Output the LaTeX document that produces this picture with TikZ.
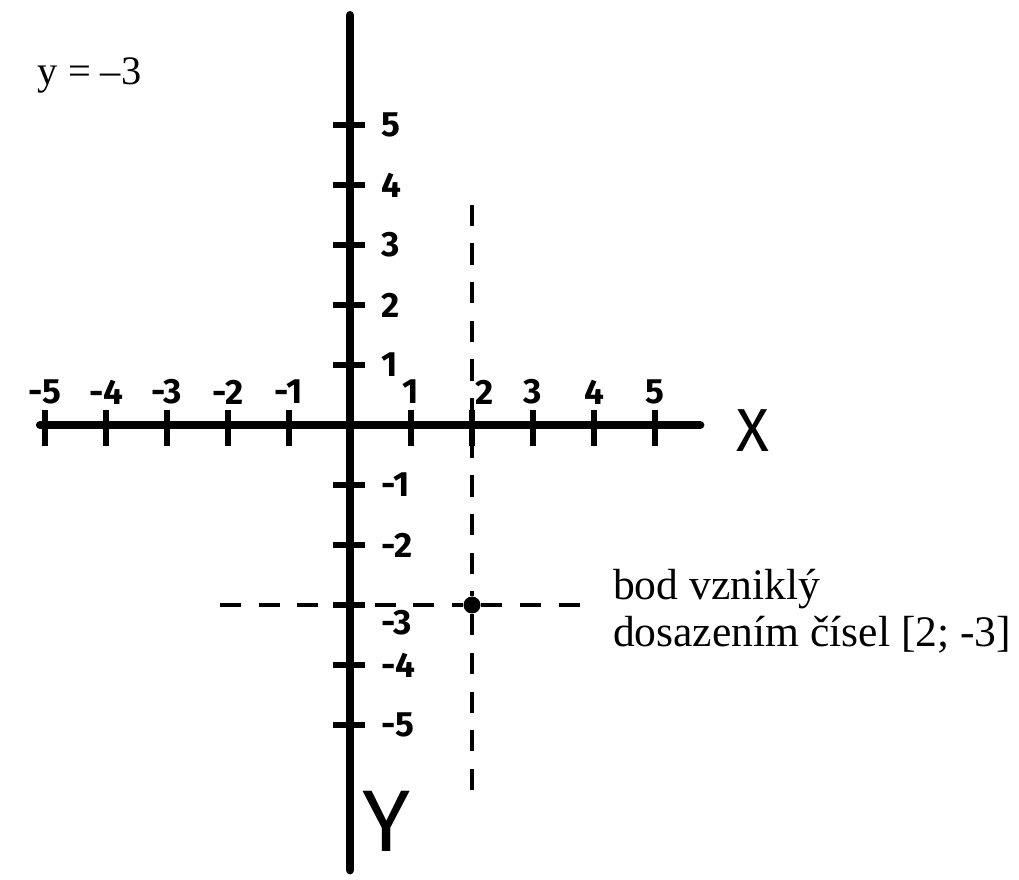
\documentclass[tikz,border=0pt]{standalone}
\usepackage{fontspec}
\setmainfont{Liberation Serif}
\newfontfamily\handfont{Fira Sans}
\usetikzlibrary{positioning}

\begin{document}
\begin{tikzpicture}[x=0.61cm,y=0.6cm,
  axis/.style={line width=2.4pt,line cap=round},
  tick/.style={line width=1.6pt},
  guide/.style={line width=1.3pt,dash pattern=on 6pt off 5pt},
  num/.style={font=\handfont\bfseries,inner sep=1pt},
  note/.style={font=\fontsize{12.4}{13.5}\selectfont,align=left,inner sep=0pt}
]
  \useasboundingbox (-5.738,7.083) rectangle (10.967,-7.567);
  % axes
  \coordinate (xs) at (-5.08,0);
  \coordinate (xe) at (5.74,0);
  \coordinate (ys) at (0,6.83);
  \coordinate (ye) at (0,-7.42);
  \draw[axis] (xs) -- (xe);
  \draw[axis] (ys) -- (ye);
  \node[font=\handfont\LARGE] (xlab) at (6.6,-0.1) {X};
  \node[font=\handfont\Huge] (ylab) at (0.6,-6.6) {Y};
  % ticks and numbers
  \foreach \i in {-5,...,-1,1,3,4,5} {
    \draw[tick] (\i,0.25) -- (\i,-0.35);
    \node[num] (xn\i) at (\i,0.55) {\i};
  }
  \draw[tick] (2,0.25) -- (2,-0.35);
  \node[num] (xn2) at (2.2,0.55) {2};
  \foreach \i in {-5,-4,-2,-1,1,2,...,5} {
    \draw[tick] (-0.28,\i) -- (0.25,\i);
    \node[num,anchor=west] (yn\i) at (0.45,\i) {\i};
  }
  \draw[tick] (-0.28,-3) -- (0.25,-3);
  \node[num,anchor=west] (yn-3) at (0.45,-3.3) {-3};
  % guides to the point
  \node[circle,fill,inner sep=0pt,minimum size=0.17cm] (pt) at (2,-3) {};
  \coordinate (gtop) at (2,3.67);
  \coordinate (gbot) at (2,-6.08);
  \coordinate (gl) at (-2.13,-3);
  \coordinate (gr) at (3.93,-3);
  \draw[guide] (gtop) -- (pt) -- (gbot);
  \draw[guide] (gl) -- (pt) -- (gr);
  % texts
  \node[anchor=west,inner sep=0pt,font=\fontsize{11.5}{13.5}\selectfont] (eq) at (-5.13,5.83) {y = –3};
  \node[note,anchor=west] (bod) at (4.3,-3.1) {bod vzniklý\\dosazením čísel [2; -3]};
\end{tikzpicture}
\end{document}
